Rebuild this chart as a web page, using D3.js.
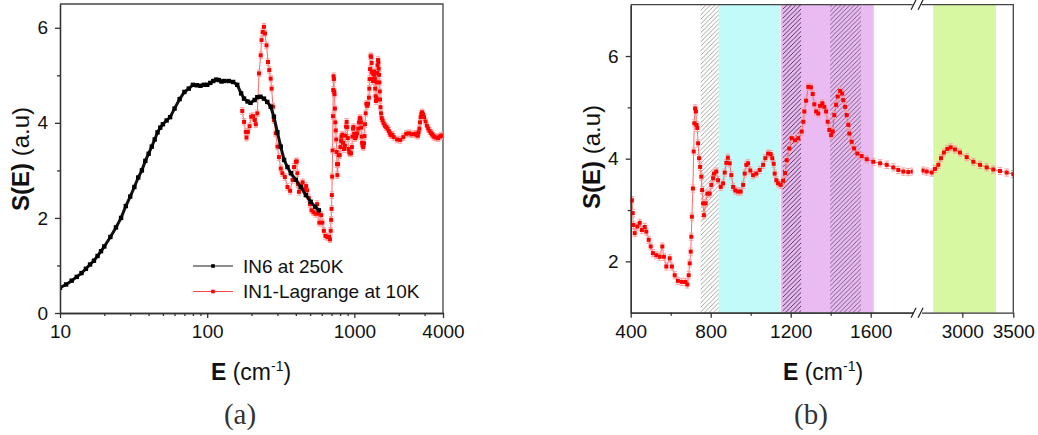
<!DOCTYPE html>
<meta charset="utf-8">
<style>

body {
  margin: 0;
  background: #fff;
}

svg text {
  font-family: "Liberation Sans", Arial, sans-serif;
  fill: #111;
}

.axis path, .axis line {
  stroke: #333;
  stroke-width: 1.3;
}

.axis text {
  font-size: 19px;
  font-family: "Liberation Sans", Arial, sans-serif;
  fill: #111;
}

.caption {
  font-family: "Liberation Serif", "DejaVu Serif", serif !important;
  font-size: 29px;
  fill: #333 !important;
}

</style>
<svg></svg>
<script src="https://d3js.org/d3.v7.min.js"></script>
<script>

// IN6 at 250K : [E (cm-1), S(E)]
var in6Data = [[10,0.53],[11,0.6],[12,0.68],[13,0.76],[14,0.84],[15,0.93],[16,1.02],[17,1.1],[18,1.2],[19,1.3],
  [20,1.4],[22,1.6],[24,1.8],[26,2.0],[28,2.25],[30,2.45],[32,2.65],[34,2.85],[36,3.0],[38,3.2],[40,3.35],
  [42,3.5],[44,3.65],[46,3.8],[48,3.9],[50,3.97],[53,4.05],[56,4.12],[60,4.3],[65,4.5],[70,4.65],[75,4.72],
  [80,4.80],[85,4.79],[90,4.78],[95,4.80],[100,4.80],[105,4.84],[110,4.88],[115,4.91],[120,4.90],[125,4.87],
  [130,4.88],[140,4.88],[150,4.86],[160,4.80],[170,4.62],[178,4.51],[188,4.45],[197,4.42],[210,4.48],[219,4.54],
  [230,4.55],[243,4.51],[256,4.44],[270,4.34],[284,4.13],[300,3.80],[316,3.50],[333,3.22],[351,3.07],[370,2.94],
  [400,2.80],[432,2.65],[468,2.48],[505,2.34],[542,2.23],[574,2.16]];

// IN1-Lagrange at 10K : [E (cm-1), S(E)]
var in1Data = [[173,4.25],[178,4.02],[183,3.81],[185,3.69],[189,3.81],[194,3.93],[199,4.13],[205,4.14],[210,4.06],
  [214,3.97],[219,4.20],[225,5.04],[231,5.42],[234,5.74],[238,5.91],[243,6.02],[247,5.88],[253,5.63],[259,5.28],
  [264,5.11],[270,4.93],[274,4.72],[280,4.34],[284,4.06],[292,3.78],[300,3.50],[307,3.28],[316,3.04],[324,2.94],
  [337,2.86],[351,2.65],[366,2.57],[380,2.80],[389,3.07],[400,3.18],[406,3.19],[410,2.94],[413,2.71],[420,2.55],
  [433,2.68],[445,2.75],[456,2.61],[470,2.67],[478,2.58],[490,2.42],[500,2.29],[511,2.16],[528,2.12],[545,2.09],
  [558,2.29],[566,2.09],[578,1.90],[595,2.06],[606,1.90],[620,1.73],[636,1.62],[656,1.60],[673,1.60],[683,1.55],
  [690,1.73],[695,1.96],[700,2.19],[703,2.48],[706,2.87],[711,3.42],[715,4.14],[718,4.69],[722,4.98],[726,4.92],
  [729,4.66],[733,4.60],[737,4.30],[742,4.01],[747,3.84],[753,3.65],[757,3.39],[762,3.13],[766,2.90],[775,3.13],
  [783,3.32],[795,3.32],[803,3.49],[812,3.62],[816,3.71],[828,3.75],[837,3.58],[850,3.45],[862,3.52],[870,3.73],
  [878,3.92],[886,4.02],[895,3.91],[903,3.68],[912,3.45],[923,3.38],[937,3.36],[950,3.36],[962,3.49],[970,3.71],
  [978,3.88],[987,3.91],[998,3.77],[1012,3.68],[1028,3.71],[1045,3.78],[1062,3.88],[1073,4.01],[1087,4.10],
  [1100,4.09],[1108,4.01],[1115,3.90],[1120,3.71],[1128,3.58],[1137,3.52],[1150,3.49],[1162,3.57],[1172,3.72],
  [1180,3.97],[1193,4.20],[1205,4.40],[1222,4.36],[1238,4.40],[1255,4.53],[1263,4.72],[1268,4.92],[1277,5.13],
  [1288,5.40],[1301,5.39],[1310,5.26],[1318,5.06],[1327,4.92],[1338,4.88],[1347,5.03],[1358,5.08],[1368,5.01],
  [1377,4.92],[1385,4.72],[1393,4.56],[1402,4.46],[1410,4.53],[1418,4.85],[1427,5.05],[1435,5.21],[1447,5.32],
  [1457,5.27],[1463,5.14],[1472,5.01],[1480,4.85],[1488,4.66],[1493,4.49],[1505,4.33],[1517,4.20],[1533,4.10],
  [1555,4.05],[1580,3.99],[1613,3.94],[1647,3.91],[1680,3.88],[1713,3.83],[1738,3.78],[1763,3.75],[1788,3.74],
  [1810,3.75],[1850,3.70],[1950,3.65],[2050,3.64],[2150,3.70],[2250,3.77],[2350,3.78],[2450,3.76],[2550,3.76],
  [2612,3.77],[2651,3.75],[2700,3.73],[2732,3.80],[2765,3.88],[2791,4.01],[2820,4.12],[2853,4.19],[2886,4.22],
  [2928,4.18],[2977,4.12],[3043,4.03],[3108,3.94],[3174,3.88],[3239,3.83],[3304,3.79],[3370,3.76],[3435,3.73],
  [3500,3.70],[3600,3.69],[3700,3.68],[3800,3.71],[3900,3.73],[4000,3.73]];

var in1Err = 0.07;

var legendLabels = ["IN6 at 250K", "IN1-Lagrange at 10K"];

var ticksAx = [10, 100, 1000, 4000],
    minorAx = [20,30,40,50,60,70,80,90,200,300,400,500,600,700,800,900,2000,3000],
    ticksAy = [0, 2, 4, 6],
    minorAy = [1, 3, 5];

var ticksBxLeft = [400, 800, 1200, 1600],
    minorBxLeft = [600, 1000, 1400],
    ticksBxRight = [3000, 3500],
    ticksBy = [2, 4, 6],
    minorBy = [3, 5];

// shaded ranges in panel (b), cm-1
var bandRanges = [[840, 1147], [1150, 1615], [2715, 3330]],
    bandColors = ["#c2fafa", "#e9bbf2", "#d7f7a2"];
var hatchRanges = [[750, 840], [1160, 1252], [1397, 1552]],
    hatchColors = ["#9a9a9a", "#3a2a40", "#6a5a70"];

var fmt = d3.format("d");

var svg = d3.select("svg")
    .attr("width", 1038)
    .attr("height", 435);

var defs = svg.append("defs");

hatchColors.forEach(function(c, i) {
  defs.append("pattern")
      .attr("id", "hatch" + i)
      .attr("patternUnits", "userSpaceOnUse")
      .attr("width", 4.5)
      .attr("height", 4.5)
    .append("path")
      .attr("d", "M-1,1 l2,-2 M0,4.5 l4.5,-4.5 M3.5,5.5 l2,-2")
      .attr("stroke", c)
      .attr("stroke-width", 0.9);
});

// ---------- panel (a) ----------
var xA = d3.scaleLog().domain([10, 4000]).range([60, 443]),
    yA = d3.scaleLinear().domain([0, 6.5]).range([313, 4]);

defs.append("clipPath").attr("id", "clipA")
  .append("rect").attr("x", 60).attr("y", 4).attr("width", 383).attr("height", 309);

var gA = svg.append("g");

gA.append("path")
    .attr("d", "M60,4 H443 V313")
    .attr("fill", "none")
    .attr("stroke", "#444")
    .attr("stroke-width", 1.3);

var plotA = gA.append("g").attr("clip-path", "url(#clipA)");

drawRed(plotA, in1Data, xA, yA);
drawBlack(plotA, in6Data, xA, yA);

gA.append("g").attr("class", "axis")
    .attr("transform", "translate(0,313)")
    .call(d3.axisBottom(xA).tickValues(ticksAx).tickFormat(fmt).tickSize(5).tickPadding(7).tickSizeOuter(0));
gA.append("g").attr("class", "axis")
    .attr("transform", "translate(0,313)")
    .call(d3.axisBottom(xA).tickValues(minorAx).tickFormat("").tickSize(3).tickSizeOuter(0));
gA.append("g").attr("class", "axis")
    .attr("transform", "translate(60,0)")
    .call(d3.axisLeft(yA).tickValues(ticksAy).tickFormat(fmt).tickSize(5).tickPadding(7).tickSizeOuter(0));
gA.append("g").attr("class", "axis")
    .attr("transform", "translate(60,0)")
    .call(d3.axisLeft(yA).tickValues(minorAy).tickFormat("").tickSize(3).tickSizeOuter(0));

// legend
var legend = gA.append("g");
legendLabels.forEach(function(t, i) {
  var y = 266 + i * 25.5,
      col = i == 0 ? "#000" : "#f00";
  legend.append("line")
      .attr("x1", 193).attr("x2", 233).attr("y1", y).attr("y2", y)
      .attr("stroke", i == 0 ? "#000" : "#f33").attr("stroke-width", 0.9);
  legend.append("rect")
      .attr("x", 211.2).attr("y", y - 1.8).attr("width", 3.6).attr("height", 3.6)
      .attr("fill", col);
  legend.append("text")
      .attr("x", 243).attr("y", y)
      .attr("dy", "0.35em")
      .style("font-size", "19px")
      .text(t);
});

axisTitles(gA, 251, 21, 159);

gA.append("text")
    .attr("class", "caption")
    .attr("x", 240).attr("y", 424)
    .attr("text-anchor", "middle")
    .text("(a)");

// ---------- panel (b) ----------
var yB = d3.scaleLinear().domain([1, 7]).range([312.7, 4.7]),
    xB1 = d3.scaleLinear().domain([400, 1810]).range([630.7, 912.7]),
    xB2 = d3.scaleLinear().domain([2600, 3500]).range([921.5, 1013.3]);

function xB(v) { return v <= 1810 ? xB1(v) : xB2(v); }

var gB = svg.append("g");

bandRanges.forEach(function(r, i) {
  gB.append("rect")
      .attr("x", xB(r[0])).attr("y", yB(7))
      .attr("width", xB(r[1]) - xB(r[0]))
      .attr("height", yB(1) - yB(7))
      .attr("fill", bandColors[i]);
});
hatchRanges.forEach(function(r, i) {
  gB.append("rect")
      .attr("x", xB(r[0])).attr("y", yB(7))
      .attr("width", xB(r[1]) - xB(r[0]))
      .attr("height", yB(1) - yB(7))
      .attr("fill", "url(#hatch" + i + ")");
});

defs.append("clipPath").attr("id", "clipB1")
  .append("rect").attr("x", 630.7).attr("y", 4.7).attr("width", 282).attr("height", 308);
defs.append("clipPath").attr("id", "clipB2")
  .append("rect").attr("x", 921.5).attr("y", 4.7).attr("width", 91.8).attr("height", 308);

drawRed(gB.append("g").attr("clip-path", "url(#clipB1)"),
    in1Data.filter(function(d) { return d[0] <= 1830; }), xB1, yB);
drawRed(gB.append("g").attr("clip-path", "url(#clipB2)"),
    in1Data.filter(function(d) { return d[0] >= 2550; }), xB2, yB);

// frame
gB.append("path")
    .attr("d", "M630.7,4.7 H" + xB1.range()[1] + " M" + xB2.range()[0] + ",4.7 H1013.3 V312.7")
    .attr("fill", "none")
    .attr("stroke", "#444")
    .attr("stroke-width", 1.3);

gB.append("g").attr("class", "axis")
    .attr("transform", "translate(0,312.7)")
    .call(d3.axisBottom(xB1).tickValues(ticksBxLeft).tickFormat(fmt).tickSize(5).tickPadding(7).tickSizeOuter(0));
gB.append("g").attr("class", "axis")
    .attr("transform", "translate(0,312.7)")
    .call(d3.axisBottom(xB1).tickValues(minorBxLeft).tickFormat("").tickSize(3).tickSizeOuter(0));
gB.append("g").attr("class", "axis")
    .attr("transform", "translate(0,312.7)")
    .call(d3.axisBottom(xB2).tickValues(ticksBxRight).tickFormat(fmt).tickSize(5).tickPadding(7).tickSizeOuter(0));
gB.append("g").attr("class", "axis")
    .attr("transform", "translate(630.7,0)")
    .call(d3.axisLeft(yB).tickValues(ticksBy).tickFormat(fmt).tickSize(5).tickPadding(7).tickSizeOuter(0));
gB.append("g").attr("class", "axis")
    .attr("transform", "translate(630.7,0)")
    .call(d3.axisLeft(yB).tickValues(minorBy).tickFormat("").tickSize(3).tickSizeOuter(0));

// axis break marks
var xBreak = (xB1.range()[1] + xB2.range()[0]) / 2;
[4.7, 312.7].forEach(function(y) {
  gB.append("path")
      .attr("d", "M" + (xBreak - 6) + "," + (y + 5) + " l5,-10 M" + (xBreak + 1) + "," + (y + 5) + " l5,-10")
      .attr("stroke", "#222")
      .attr("stroke-width", 1.2);
});

axisTitles(gB, 823, 591.7, 157);

gB.append("text")
    .attr("class", "caption")
    .attr("x", 811).attr("y", 424)
    .attr("text-anchor", "middle")
    .text("(b)");

// ---------- helpers ----------
function drawRed(g, data, x, y) {
  g.append("path")
      .datum(data)
      .attr("d", d3.line().x(function(d) { return x(d[0]); }).y(function(d) { return y(d[1]); }))
      .attr("fill", "none")
      .attr("stroke", "#f44")
      .attr("stroke-width", 0.8);
  g.selectAll(".err")
      .data(data)
    .enter().append("path")
      .attr("d", function(d) {
        var px = x(d[0]), y1 = y(d[1] + in1Err), y2 = y(d[1] - in1Err);
        return "M" + (px - 2.2) + "," + y1 + " h4.4 M" + px + "," + y1 + " V" + y2 + " M" + (px - 2.2) + "," + y2 + " h4.4";
      })
      .attr("stroke", "#f9a0a0")
      .attr("stroke-width", 1);
  g.selectAll(".pt")
      .data(data)
    .enter().append("rect")
      .attr("x", function(d) { return x(d[0]) - 2; })
      .attr("y", function(d) { return y(d[1]) - 2; })
      .attr("width", 4)
      .attr("height", 4)
      .attr("fill", "#f00");
}

function drawBlack(g, data, x, y) {
  g.append("path")
      .datum(data)
      .attr("d", d3.line().x(function(d) { return x(d[0]); }).y(function(d) { return y(d[1]); }))
      .attr("fill", "none")
      .attr("stroke", "#111")
      .attr("stroke-width", 3);
  g.selectAll(".bpt")
      .data(data)
    .enter().append("rect")
      .attr("x", function(d) { return x(d[0]) - 2.2; })
      .attr("y", function(d) { return y(d[1]) - 2.2; })
      .attr("width", 4.4)
      .attr("height", 4.4)
      .attr("fill", "#000");
}

function axisTitles(g, xx, yx, yy) {
  var t = g.append("text")
      .attr("x", xx).attr("y", 380)
      .attr("text-anchor", "middle")
      .style("font-size", "23px");
  t.append("tspan").style("font-weight", "bold").text("E");
  t.append("tspan").text(" (cm");
  t.append("tspan").attr("dy", -9).style("font-size", "14px").text("-1");
  t.append("tspan").attr("dy", 9).text(")");

  var s = g.append("text")
      .attr("transform", "translate(" + yx + "," + yy + ") rotate(-90)")
      .attr("text-anchor", "middle")
      .attr("dy", "0.35em")
      .style("font-size", "24px");
  s.append("tspan").style("font-weight", "bold").text("S(E)");
  s.append("tspan").text(" (a.u)");
}

</script>
